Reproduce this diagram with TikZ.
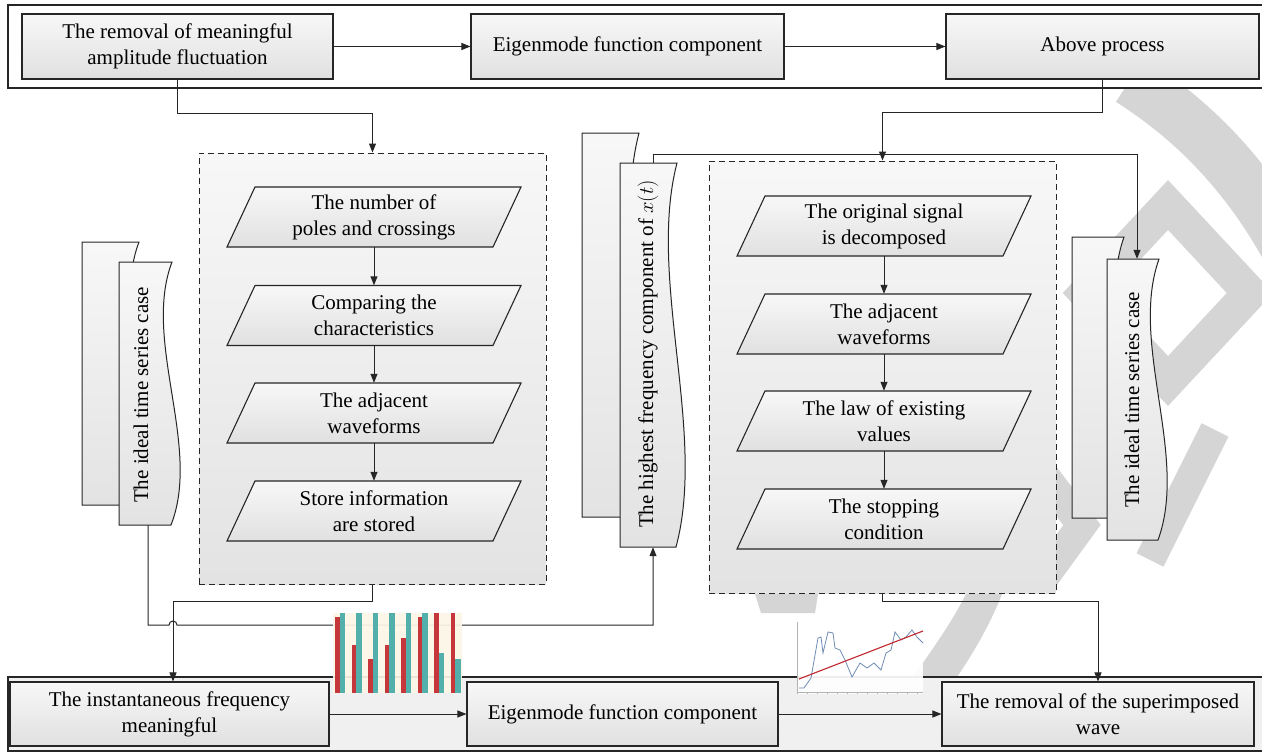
\documentclass[tikz,border=0pt]{standalone}
\usepackage{fontspec}
\newfontfamily\diagfont{Liberation Serif}
\usetikzlibrary{arrows.meta,shadings}
\definecolor{barred}{HTML}{C1272D}
\definecolor{barteal}{HTML}{45AAA8}
\definecolor{cream}{HTML}{FBF6E6}
\definecolor{wave}{HTML}{6F8DB5}
\definecolor{edge}{HTML}{262626}
\definecolor{stamp}{HTML}{D5D5D5}
% parallelogram step: fill/outline first, then the named text node on top
\newcommand\parastep[4]{%
  \shadedraw[parafill] ({#2-147},{#3+30}) -- ({#2+119},{#3+30}) -- ({#2+147},{#3-30}) -- ({#2-119},{#3-30}) -- cycle;
  \node[paratext] (#1) at (#2,#3) {#4};}
% sheet with a wavy right side (x0, y0, width, height)
\newcommand\sheet[4]{%
  \shadedraw[sheetfill] (#1,#2) -- ({#1+#3},#2) .. controls ({#1+#3-30},{#2+0.3*#4}) and ({#1+#3+30},{#2+0.7*#4}) .. ({#1+#3-1},{#2+#4}) -- (#1,{#2+#4}) -- cycle;}
\begin{document}
\begin{tikzpicture}[x=1pt,y=-1pt,
  every node/.style={font=\diagfont\fontsize{21}{26}\selectfont, align=center, inner sep=0pt},
  box/.style={draw=edge, line width=1.1pt, top color=black!3, bottom color=black!12, minimum height=65},
  frame/.style={draw=edge, line width=1.1pt},
  dbox/.style={draw=edge, line width=1pt, dash pattern=on 6pt off 4pt, top color=black!3, bottom color=black!11},
  parafill/.style={draw=edge, line width=1.1pt, top color=black!3, bottom color=black!12},
  paratext/.style={minimum width=266, minimum height=60},
  sheetfill/.style={draw=edge, line width=1pt, top color=black!3, bottom color=black!11},
  anchorbox/.style={minimum width=#1, draw=none},
  arr/.style={draw=edge, line width=1pt, -{Triangle[length=9pt,width=7pt]}},
  wm/.style={draw=stamp, line cap=butt}]
\useasboundingbox (0,0) rectangle (1262,752);
\fill[white] (0,0) rectangle (1262,752);

% ---------- faint background stamp ----------
\draw[wm, line width=34pt, line join=miter] (1086,293) -- (1168,205) -- (1250,293) -- (1168,381) -- cycle;
\draw[wm, line width=52pt] (1130,80) .. controls (1185,115) and (1240,165) .. (1285,245);
\draw[wm, line width=30pt, line join=miter] (1040,470) -- (1082,525) -- (1042,580);
\draw[wm, line width=30pt] (1215,430) -- (1150,560);
\fill[stamp] (755,594) -- (818,594) -- (815,613) -- (761,613) -- cycle;
\fill[stamp] (966,594) -- (1002,594) .. controls (990,625) and (972,655) .. (957,677) -- (913,677) .. controls (932,650) and (952,622) .. cycle;

% ---------- top band ----------
\draw[frame, fill=white] (8,5) rectangle (1266,88);
\node[box, minimum width=311] (t1) at (177.5,46.5) {The removal of meaningful\\amplitude fluctuation};
\node[box, minimum width=313] (t2) at (627.5,46.5) {Eigenmode function component};
\node[box, minimum width=313] (t3) at (1102.5,46.5) {Above process};
\draw[arr] (t1) -- (t2);
\draw[arr] (t2) -- (t3);

% ---------- bottom band ----------
\draw[frame, fill=black!6] (8,677) rectangle (1266,751);
\node[box, minimum width=319, minimum height=64] (b1) at (169.5,714) {The instantaneous frequency\\meaningful};
\node[box, minimum width=311, minimum height=64] (b2) at (622.5,714) {Eigenmode function component};
\node[box, minimum width=312, minimum height=64] (b3) at (1098,714) {The removal of the superimposed\\wave};
\draw[arr] (b1) -- (b2);
\draw[arr] (b2) -- (b3);

% ---------- dashed groups ----------
\node[dbox, minimum width=347, minimum height=431] (d1) at (372.5,368.5) {};
\node[dbox, minimum width=347, minimum height=432] (d2) at (882.5,377) {};

\parastep{p1}{374}{217}{The number of\\poles and crossings}
\parastep{p2}{374}{315.5}{Comparing the\\characteristics}
\parastep{p3}{374}{413}{The adjacent\\waveforms}
\parastep{p4}{374}{511}{Store information\\are stored}
\draw[arr] (p1) -- (p2);
\draw[arr] (p2) -- (p3);
\draw[arr] (p3) -- (p4);

\parastep{q1}{884}{226}{The original signal\\is decomposed}
\parastep{q2}{884}{324}{The adjacent\\waveforms}
\parastep{q3}{884}{421}{The law of existing\\values}
\parastep{q4}{884}{519}{The stopping\\condition}
\draw[arr] (q1) -- (q2);
\draw[arr] (q2) -- (q3);
\draw[arr] (q3) -- (q4);

% ---------- stacked sheets ----------
\sheet{82}{242}{57}{263}
\sheet{119}{262}{53}{263}
\node[anchorbox=53, minimum height=263] (ls) at (145.5,393.5) {};
\node[rotate=90] (lst) at (141,395) {The ideal time series case};

\sheet{582}{133}{57}{384}
\sheet{620}{163}{57}{384}
\node[anchorbox=57, minimum height=384] (ms) at (648.5,355) {};
\node[rotate=90] (mst) at (648,354) {The highest frequency component of $x(t)$};

\sheet{1072}{237}{52}{281}
\sheet{1107}{259}{52}{281}
\node[anchorbox=52, minimum height=281] (rs) at (1133,399.5) {};
\node[rotate=90] (rst) at (1132,400) {The ideal time series case};

% ---------- connectors ----------
\draw[arr] (t1.south) -- ++(0,34) -| (d1.north);
\draw[arr] (t3.south) -- ++(0,33) -| (d2.north);
\draw[arr] ([xshift=4.5pt]ms.north) -- ++(0,-8) -| ([xshift=4pt]rs.north);
\draw[arr] (d1.south) -- ++(0,17) -| ([xshift=3.5pt]b1.north);
\draw[arr] (d2.south) -- ++(0,8) -| (b3.north);
\coordinate (hop) at (169,625);
\draw[arr] ([xshift=2.5pt]ls.south) |- (hop) arc[start angle=180, end angle=360, radius=4] -| ([xshift=4.5pt]ms.south);

% ---------- bar chart thumbnail ----------
\fill[cream, opacity=0.92] (333,613) rectangle (462,693);
\foreach \i/\r/\t in {0/617/613, 1/645/613, 2/659/613, 3/645/613, 4/638/613, 5/617/613, 6/613/653, 7/613/659}{
  \fill[barred, opacity=0.92] ({335+16.5*\i},\r) rectangle ({339.5+16.5*\i},693);
  \fill[barteal, opacity=0.92] ({339.5+16.5*\i},\t) rectangle ({345+16.5*\i},693);
}

% ---------- trend chart thumbnail ----------
\fill[white, opacity=0.92] (797,615) rectangle (923,694);
\draw[black!30, line width=0.5pt] (797,622) -- (797,692) -- (923,692);
\foreach \k in {0,...,12}{\draw[black!30, line width=0.4pt] ({797+10*\k},692) -- ({797+10*\k},694);}
\draw[wave, line width=0.8pt] (799,688) -- (804,688) -- (811,678) -- (818,638) -- (821,637) -- (823,653) -- (828,632) -- (833,633) -- (835,648) -- (840,650) -- (845,660) -- (852,677) -- (860,663) -- (867,668) -- (874,663) -- (881,670) -- (886,653) -- (891,650) -- (895,632) -- (901,640) -- (906,637) -- (912,630) -- (917,637) -- (923,643);
\draw[barred, line width=1.1pt] (799,679) -- (923,631);
\end{tikzpicture}
\end{document}
